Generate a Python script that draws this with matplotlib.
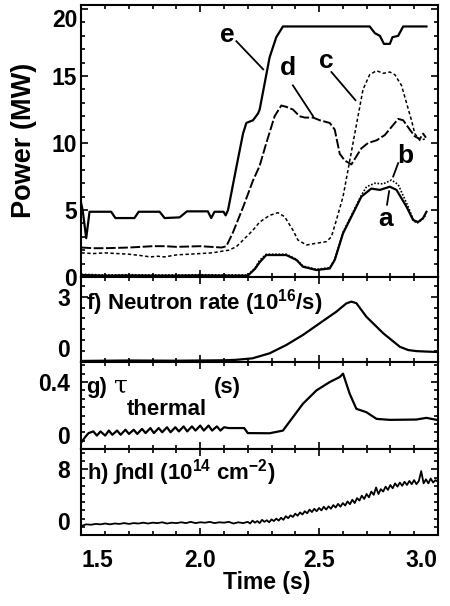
import numpy as np
import matplotlib
matplotlib.use('Agg')
import matplotlib.pyplot as plt
from matplotlib.ticker import MultipleLocator

plt.rcParams['font.family'] = ['Liberation Sans', 'DejaVu Sans']
plt.rcParams['font.weight'] = 'bold'
plt.rcParams['mathtext.fontset'] = 'custom'
plt.rcParams['mathtext.rm'] = 'Liberation Sans:bold'
plt.rcParams['mathtext.bf'] = 'Liberation Sans:bold'
plt.rcParams['mathtext.it'] = 'Liberation Sans:bold:italic'
plt.rcParams['mathtext.default'] = 'rm'

# power traces (MW)
t_e = [1.495, 1.505, 1.52, 1.534, 1.625, 1.643, 1.723, 1.741, 1.829, 1.85, 1.913, 1.944, 2.032, 2.046,
       2.06, 2.098, 2.107, 2.117, 2.152, 2.18, 2.194, 2.222, 2.243, 2.25, 2.292, 2.32, 2.348, 2.713,
       2.735, 2.756, 2.773, 2.798, 2.809, 2.833, 2.854, 2.952]
p_e = [5.8, 5.0, 2.9, 4.87, 4.87, 4.4, 4.4, 4.87, 4.87, 4.4, 4.45, 4.9, 4.9, 4.4,
       4.87, 4.87, 4.6, 5.0, 8.2, 10.7, 11.5, 11.7, 12.2, 12.5, 16.4, 17.9, 18.7, 18.7,
       18.2, 18.0, 17.4, 17.4, 17.9, 18.0, 18.7, 18.7]

t_d = [1.5, 1.55, 1.6, 1.7, 1.8, 1.85, 1.9, 2.0, 2.09, 2.11, 2.137, 2.18, 2.222, 2.25, 2.278, 2.313,
       2.341, 2.362, 2.39, 2.418, 2.44, 2.475, 2.503, 2.545, 2.566, 2.587, 2.608, 2.636, 2.657, 2.678,
       2.706, 2.742, 2.777, 2.805, 2.833, 2.854, 2.882, 2.903, 2.924, 2.938, 2.95]
p_d = [2.2, 2.15, 2.15, 2.2, 2.3, 2.3, 2.25, 2.3, 2.2, 2.3, 3.3, 5.2, 7.2, 8.3, 10.0, 12.0,
       12.8, 12.7, 12.5, 12.0, 11.9, 11.9, 11.7, 11.5, 11.0, 9.2, 8.7, 8.4, 9.0, 9.6,
       10.0, 10.2, 10.6, 11.2, 11.8, 11.7, 11.0, 10.5, 10.3, 10.7, 10.4]

t_c = [1.5, 1.55, 1.6, 1.65, 1.7, 1.75, 1.79, 1.82, 1.85, 1.9, 1.95, 2.0, 2.05, 2.1, 2.12, 2.152,
       2.194, 2.222, 2.25, 2.292, 2.327, 2.355, 2.39, 2.411, 2.447, 2.482, 2.531, 2.552, 2.573, 2.601,
       2.622, 2.643, 2.664, 2.685, 2.713, 2.742, 2.77, 2.798, 2.819, 2.847, 2.868, 2.889, 2.903, 2.924,
       2.945]
p_c = [1.8, 1.75, 1.8, 1.75, 1.7, 1.6, 1.5, 1.55, 1.5, 1.65, 1.7, 1.75, 1.8, 1.95, 2.0, 2.26,
       3.0, 3.5, 4.1, 4.6, 4.8, 4.5, 3.5, 2.76, 2.39, 2.5, 2.64, 3.0, 4.25, 6.0,
       8.0, 10.0, 12.0, 14.0, 15.1, 15.4, 15.2, 15.3, 15.1, 14.3, 13.0, 11.7, 10.7, 10.2,
       10.3]

t_b = [1.5, 1.6, 1.7, 1.8, 1.9, 2.0, 2.1, 2.2, 2.23, 2.25, 2.278, 2.362, 2.405, 2.432, 2.489, 2.545,
       2.566, 2.601, 2.643, 2.678, 2.70, 2.735, 2.77, 2.805, 2.833, 2.875, 2.896, 2.91, 2.935, 2.952]
p_b = [0.2, 0.15, 0.17, 0.15, 0.15, 0.17, 0.15, 0.15, 0.65, 1.25, 1.7, 1.7, 1.32, 0.82, 0.57, 0.7,
       1.33, 3.35, 4.85, 6.1, 6.74, 7.0, 6.95, 7.24, 6.9, 5.25, 4.3, 4.0, 4.3, 4.7]

t_a = [1.5, 1.6, 1.7, 1.8, 1.9, 2.0, 2.1, 2.2, 2.23, 2.25, 2.278, 2.362, 2.405, 2.432, 2.489, 2.545,
       2.566, 2.601, 2.643, 2.678, 2.72, 2.756, 2.798, 2.826, 2.868, 2.896, 2.917, 2.938, 2.952]
p_a = [0.15, 0.1, 0.12, 0.1, 0.1, 0.12, 0.1, 0.1, 0.6, 1.1, 1.64, 1.64, 1.27, 0.77, 0.52, 0.64,
       1.27, 3.26, 4.75, 6.0, 6.6, 6.5, 6.74, 6.5, 5.25, 4.25, 4.1, 4.4, 4.87]

# neutron rate (1e16/s)
t_f = [1.5, 1.7, 1.9, 2.1, 2.15, 2.22, 2.292, 2.362, 2.432, 2.503, 2.573, 2.615, 2.636, 2.657,
       2.699, 2.77, 2.84, 2.875, 2.91, 2.95, 3.0]
n_f = [0.05, 0.07, 0.06, 0.08, 0.1, 0.17, 0.4, 0.78, 1.24, 1.78, 2.31, 2.69, 2.77, 2.7,
       2.08, 1.32, 0.7, 0.55, 0.5, 0.48, 0.46]

# tau thermal (s)
t_g = [1.5, 1.515, 1.53, 1.55, 1.565, 1.58, 1.6, 1.615, 1.63, 1.65, 1.665, 1.685, 1.70, 1.72, 1.735,
       1.755, 1.77, 1.79, 1.805, 1.825, 1.84, 1.86, 1.875, 1.895, 1.91, 1.93, 1.945, 1.965, 1.98, 2.0,
       2.015, 2.035, 2.05, 2.07, 2.085, 2.1, 2.12, 2.185, 2.2, 2.292, 2.348, 2.39, 2.432, 2.489, 2.545,
       2.587, 2.601, 2.629, 2.657, 2.699, 2.742, 2.798, 2.91, 2.952, 2.995]
tau_g = [0.04, 0.07, 0.095, 0.105, 0.08, 0.105, 0.08, 0.11, 0.085, 0.11, 0.085, 0.115, 0.09, 0.115, 0.09,
         0.12, 0.095, 0.125, 0.095, 0.125, 0.1, 0.13, 0.1, 0.13, 0.105, 0.135, 0.105, 0.135, 0.11, 0.14,
         0.11, 0.14, 0.11, 0.135, 0.11, 0.13, 0.125, 0.125, 0.095, 0.094, 0.11, 0.19, 0.27, 0.35, 0.40,
         0.43, 0.45, 0.33, 0.24, 0.22, 0.18, 0.174, 0.176, 0.186, 0.174]

# line density (1e14 cm^-2)
t_h = [1.50, 1.52, 1.54, 1.56, 1.58, 1.60, 1.62, 1.64, 1.66, 1.68, 1.70, 1.72, 1.74, 1.76, 1.78,
       1.80, 1.82, 1.84, 1.86, 1.88, 1.90, 1.92, 1.94, 1.96, 1.98, 2.00, 2.02, 2.04, 2.06, 2.08,
       2.10, 2.12, 2.14, 2.16, 2.18, 2.20,
       2.21, 2.22, 2.23, 2.24, 2.25, 2.26, 2.27, 2.28, 2.29, 2.30, 2.31, 2.32, 2.33, 2.34, 2.35,
       2.36, 2.37, 2.38, 2.39, 2.40, 2.41, 2.42, 2.43, 2.44, 2.45, 2.46, 2.47, 2.48, 2.49, 2.50,
       2.51, 2.52, 2.53, 2.54, 2.55, 2.56, 2.57, 2.58, 2.59, 2.60, 2.61, 2.62, 2.63, 2.64, 2.65,
       2.66, 2.67, 2.68, 2.69, 2.70, 2.71, 2.72, 2.73, 2.74, 2.75, 2.76, 2.77, 2.78, 2.79, 2.80,
       2.81, 2.82, 2.83, 2.84, 2.85, 2.86, 2.87, 2.88, 2.89, 2.90, 2.91, 2.92, 2.93, 2.94, 2.95,
       2.96, 2.97, 2.98, 2.99, 3.00]
nl_h = [1.1, 1.3, 1.25, 1.35, 1.3, 1.4, 1.3, 1.4, 1.35, 1.45, 1.35, 1.45, 1.4, 1.5, 1.4,
        1.5, 1.45, 1.55, 1.4, 1.5, 1.45, 1.55, 1.45, 1.6, 1.45, 1.55, 1.5, 1.6, 1.45, 1.55,
        1.5, 1.6, 1.4, 1.55, 1.45, 1.6,
        1.4, 1.75, 1.5, 1.7, 1.45, 1.85, 1.6, 1.8, 1.55, 1.9, 1.7, 2.0, 1.75, 2.1, 1.85,
        2.3, 2.05, 2.4, 2.2, 2.6, 2.35, 2.75, 2.5, 2.9, 2.65, 3.1, 2.8, 3.2, 2.9, 3.3,
        3.0, 3.45, 3.1, 3.5, 3.2, 3.65, 3.35, 3.8, 3.45, 3.9, 3.6, 4.1, 3.75, 4.3, 3.9,
        4.5, 4.2, 4.8, 4.4, 5.0, 4.6, 5.3, 4.9, 5.8, 5.0, 5.6, 5.3, 5.9, 5.5, 6.1,
        5.7, 6.3, 5.9, 6.4, 6.0, 6.5, 6.1, 6.6, 6.2, 6.7, 6.2, 6.6, 7.8, 6.3, 6.8,
        6.3, 6.9, 6.4, 6.7, 6.5]

fig = plt.figure(figsize=(4.5, 6.06), dpi=100)
L, W = 0.181, 0.792
ax0 = fig.add_axes([L, 0.5429, W, 0.4488])
ax1 = fig.add_axes([L, 0.4026, W, 0.1403])
ax2 = fig.add_axes([L, 0.2591, W, 0.1436])
ax3 = fig.add_axes([L, 0.1172, W, 0.1419])

lw = 1.6
ax0.plot(t_e, p_e, color='black', lw=lw)
ax0.plot(t_d, p_d, color='black', lw=1.4, dashes=(5, 1.3))
ax0.plot(t_c, p_c, color='black', lw=1.1, dashes=(2.2, 1.6))
ax0.plot(t_b, p_b, color='black', lw=1.2, dashes=(1, 1))
ax0.plot(t_a, p_a, color='black', lw=lw)
ax1.plot(t_f, n_f, color='black', lw=lw)
ax2.plot(t_g, tau_g, color='black', lw=lw)
ax3.plot(t_h, nl_h, color='black', lw=1.3)

ax0.set_ylim(0, 20.3)
ax1.set_ylim(0, 3.9)
ax2.set_ylim(0, 0.52)
ax3.set_ylim(0, 10.5)
ax0.set_yticks([0, 5, 10, 15, 20])
ax0.yaxis.set_minor_locator(MultipleLocator(1))
ax1.set_yticks([0, 3])
ax1.yaxis.set_minor_locator(MultipleLocator(0.5))
ax2.set_yticks([0, 0.4])
ax2.set_yticklabels(['0', '0.4'])
ax2.yaxis.set_minor_locator(MultipleLocator(0.05))
ax3.set_yticks([0, 8])
ax3.yaxis.set_minor_locator(MultipleLocator(1))

for ax in [ax0, ax1, ax2, ax3]:
    ax.set_xlim(1.5, 3.0)
    ax.set_xticks([1.5, 2.0, 2.5, 3.0])
    ax.xaxis.set_minor_locator(MultipleLocator(0.1))
    ax.tick_params(which='both', direction='in', top=True, right=True, width=1.2, labelsize=16.5)
    ax.tick_params(which='major', length=5)
    ax.tick_params(which='minor', length=3)
    for s in ax.spines.values():
        s.set_linewidth(1.5)
    if ax is not ax3:
        ax.tick_params(labelbottom=False)

ax0.tick_params(axis='y', pad=3)
for ax in [ax1, ax2, ax3]:
    ax.tick_params(axis='y', pad=8)
    ax.get_yticklabels()[0].set_va('bottom')
ax0.get_yticklabels()[-1].set_va('top')
ax3.tick_params(axis='x', pad=10)
ax3.set_xticklabels(['1.5', '2.0', '2.5', '3.0'])
ax3.get_xticklabels()[0].set_ha('left')
ax3.get_xticklabels()[-1].set_ha('right')

fig.text(0.054, 0.769, 'Power (MW)', rotation=90, ha='center', va='center', fontsize=19.5)
fig.text(0.593, 0.038, 'Time (s)', ha='center', va='center', fontsize=16.5)

# curve letters
lab = dict(fontsize=19, ha='center', va='center')
ax0.text(2.116, 18.1, 'e', **lab)
ax0.plot([2.152, 2.265], [17.6, 15.5], color='black', lw=1.3)
ax0.text(2.369, 15.6, 'd', **lab)
ax0.plot([2.39, 2.475], [14.3, 12.0], color='black', lw=1.3)
ax0.text(2.531, 16.1, 'c', **lab)
ax0.plot([2.552, 2.653], [15.3, 13.2], color='black', lw=1.3)
ax0.text(2.861, 9.0, 'b', **lab)
ax0.plot([2.833, 2.812], [8.5, 7.5], color='black', lw=1.3)
ax0.text(2.781, 4.3, 'a', **lab)
ax0.plot([2.786, 2.795], [5.4, 6.4], color='black', lw=1.3)

ax1.text(0.013, 0.62, 'f) Neutron rate (10$^{16}$/s)', transform=ax1.transAxes,
         fontsize=16, va='baseline', ha='left')
ax2.text(0.013, 0.64, 'g)', transform=ax2.transAxes, fontsize=16, va='baseline', ha='left')
ax2.text(0.092, 0.655, '\u03c4', transform=ax2.transAxes, fontsize=18, va='baseline', ha='left',
         family='DejaVu Serif', fontweight='normal')
ax2.text(0.128, 0.39, 'thermal', transform=ax2.transAxes, fontsize=16, va='baseline', ha='left')
ax2.text(0.372, 0.64, '(s)', transform=ax2.transAxes, fontsize=16, va='baseline', ha='left')
ax3.text(0.015, 0.64, 'h) \u222bndl (10$^{14}$ cm$^{-2}$)', transform=ax3.transAxes,
         fontsize=16, va='baseline', ha='left')

fig.savefig('out.png', dpi=100)
